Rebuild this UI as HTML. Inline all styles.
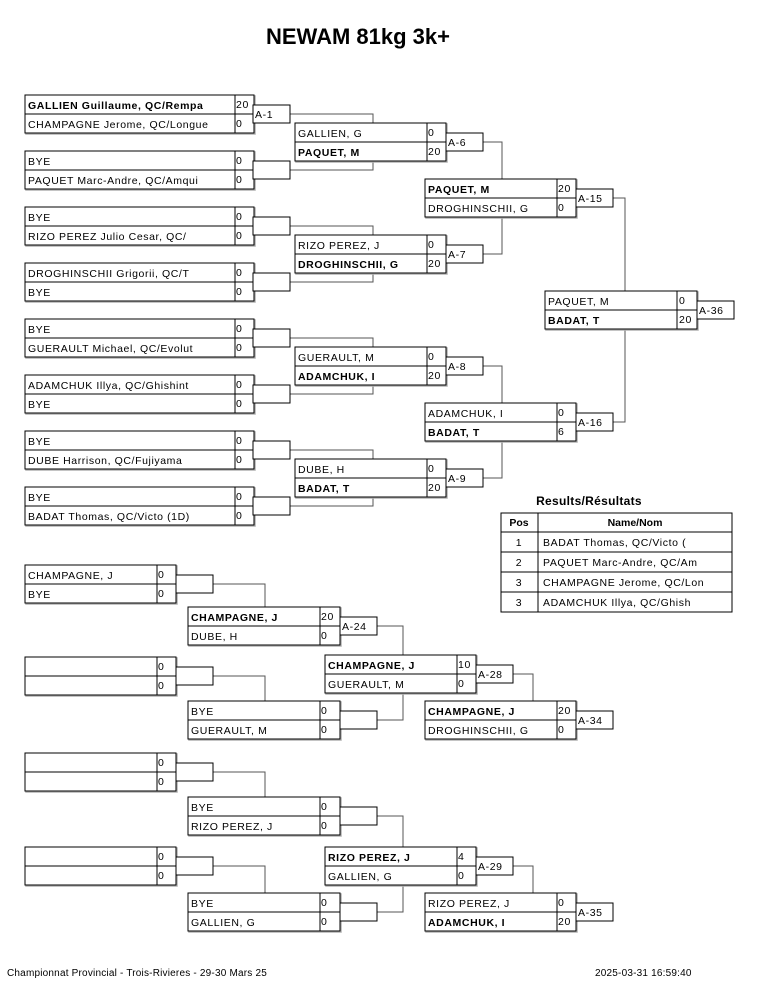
<!DOCTYPE html>
<html><head><meta charset="utf-8"><style>
html,body{margin:0;padding:0;background:#fff;width:765px;height:990px;overflow:hidden}
svg{display:block}
text{font-family:"Liberation Sans",Arial,sans-serif;font-size:10.5px;fill:#000;letter-spacing:0.6px}
.t{font-size:22px;font-weight:bold;letter-spacing:0}
.b{fill:#fff;stroke:#000;stroke-width:1}
.sh{fill:none;stroke:#b0b0b0;stroke-width:1.5}
.w{font-weight:bold}
line{stroke:#000;stroke-width:1}
.c{stroke:#555;stroke-width:1;fill:none}
.ft{font-size:10px;letter-spacing:0.2px}
</style></head><body>
<svg width="765" height="990" viewBox="0 0 765 990">
<text x="358" y="44" text-anchor="middle" class="t">NEWAM 81kg 3k+</text>

<polyline class="c" points="290,114 373,114 373,123"/>
<polyline class="c" points="290,170 373,170 373,161"/>
<polyline class="c" points="290,226 373,226 373,235"/>
<polyline class="c" points="290,282 373,282 373,273"/>
<polyline class="c" points="290,338 373,338 373,347"/>
<polyline class="c" points="290,394 373,394 373,385"/>
<polyline class="c" points="290,450 373,450 373,459"/>
<polyline class="c" points="290,506 373,506 373,497"/>
<polyline class="c" points="483,142 502,142 502,179"/>
<polyline class="c" points="483,254 502,254 502,217"/>
<polyline class="c" points="483,366 502,366 502,403"/>
<polyline class="c" points="483,478 502,478 502,441"/>
<polyline class="c" points="613,198 625,198 625,291"/>
<polyline class="c" points="613,422 625,422 625,329"/>
<polyline class="c" points="213,584 265,584 265,607"/>
<polyline class="c" points="213,676 265,676 265,701"/>
<polyline class="c" points="377,626 403,626 403,655"/>
<polyline class="c" points="377,720 403,720 403,693"/>
<polyline class="c" points="512,674 533,674 533,701"/>
<polyline class="c" points="213,772 265,772 265,797"/>
<polyline class="c" points="213,866 265,866 265,893"/>
<polyline class="c" points="377,816 403,816 403,847"/>
<polyline class="c" points="377,912 403,912 403,885"/>
<polyline class="c" points="512,866 533,866 533,893"/>

<g transform="translate(25,95)"><rect x="1" y="1" width="229" height="38" class="sh"/><rect width="229" height="38" class="b"/><line x1="0" y1="19" x2="229" y2="19"/><line x1="210" y1="0" x2="210" y2="38"/><text x="3" y="14" class="w">GALLIEN Guillaume, QC/Rempa</text><text x="211" y="13">20</text><text x="3" y="33">CHAMPAGNE Jerome, QC/Longue</text><text x="211" y="32">0</text><rect x="228" y="10" width="37" height="18" class="b"/><text x="230" y="23">A-1</text></g>
<g transform="translate(25,151)"><rect x="1" y="1" width="229" height="38" class="sh"/><rect width="229" height="38" class="b"/><line x1="0" y1="19" x2="229" y2="19"/><line x1="210" y1="0" x2="210" y2="38"/><text x="3" y="14">BYE</text><text x="211" y="13">0</text><text x="3" y="33">PAQUET Marc-Andre, QC/Amqui</text><text x="211" y="32">0</text><rect x="228" y="10" width="37" height="18" class="b"/></g>
<g transform="translate(25,207)"><rect x="1" y="1" width="229" height="38" class="sh"/><rect width="229" height="38" class="b"/><line x1="0" y1="19" x2="229" y2="19"/><line x1="210" y1="0" x2="210" y2="38"/><text x="3" y="14">BYE</text><text x="211" y="13">0</text><text x="3" y="33">RIZO PEREZ Julio Cesar, QC/</text><text x="211" y="32">0</text><rect x="228" y="10" width="37" height="18" class="b"/></g>
<g transform="translate(25,263)"><rect x="1" y="1" width="229" height="38" class="sh"/><rect width="229" height="38" class="b"/><line x1="0" y1="19" x2="229" y2="19"/><line x1="210" y1="0" x2="210" y2="38"/><text x="3" y="14">DROGHINSCHII Grigorii, QC/T</text><text x="211" y="13">0</text><text x="3" y="33">BYE</text><text x="211" y="32">0</text><rect x="228" y="10" width="37" height="18" class="b"/></g>
<g transform="translate(25,319)"><rect x="1" y="1" width="229" height="38" class="sh"/><rect width="229" height="38" class="b"/><line x1="0" y1="19" x2="229" y2="19"/><line x1="210" y1="0" x2="210" y2="38"/><text x="3" y="14">BYE</text><text x="211" y="13">0</text><text x="3" y="33">GUERAULT Michael, QC/Evolut</text><text x="211" y="32">0</text><rect x="228" y="10" width="37" height="18" class="b"/></g>
<g transform="translate(25,375)"><rect x="1" y="1" width="229" height="38" class="sh"/><rect width="229" height="38" class="b"/><line x1="0" y1="19" x2="229" y2="19"/><line x1="210" y1="0" x2="210" y2="38"/><text x="3" y="14">ADAMCHUK Illya, QC/Ghishint</text><text x="211" y="13">0</text><text x="3" y="33">BYE</text><text x="211" y="32">0</text><rect x="228" y="10" width="37" height="18" class="b"/></g>
<g transform="translate(25,431)"><rect x="1" y="1" width="229" height="38" class="sh"/><rect width="229" height="38" class="b"/><line x1="0" y1="19" x2="229" y2="19"/><line x1="210" y1="0" x2="210" y2="38"/><text x="3" y="14">BYE</text><text x="211" y="13">0</text><text x="3" y="33">DUBE Harrison, QC/Fujiyama</text><text x="211" y="32">0</text><rect x="228" y="10" width="37" height="18" class="b"/></g>
<g transform="translate(25,487)"><rect x="1" y="1" width="229" height="38" class="sh"/><rect width="229" height="38" class="b"/><line x1="0" y1="19" x2="229" y2="19"/><line x1="210" y1="0" x2="210" y2="38"/><text x="3" y="14">BYE</text><text x="211" y="13">0</text><text x="3" y="33">BADAT Thomas, QC/Victo (1D)</text><text x="211" y="32">0</text><rect x="228" y="10" width="37" height="18" class="b"/></g>

<g transform="translate(295,123)"><rect x="1" y="1" width="151" height="38" class="sh"/><rect width="151" height="38" class="b"/><line x1="0" y1="19" x2="151" y2="19"/><line x1="132" y1="0" x2="132" y2="38"/><text x="3" y="14">GALLIEN, G</text><text x="133" y="13">0</text><text x="3" y="33" class="w">PAQUET, M</text><text x="133" y="32">20</text><rect x="151" y="10" width="37" height="18" class="b"/><text x="153" y="23">A-6</text></g>
<g transform="translate(295,235)"><rect x="1" y="1" width="151" height="38" class="sh"/><rect width="151" height="38" class="b"/><line x1="0" y1="19" x2="151" y2="19"/><line x1="132" y1="0" x2="132" y2="38"/><text x="3" y="14">RIZO PEREZ, J</text><text x="133" y="13">0</text><text x="3" y="33" class="w">DROGHINSCHII, G</text><text x="133" y="32">20</text><rect x="151" y="10" width="37" height="18" class="b"/><text x="153" y="23">A-7</text></g>
<g transform="translate(295,347)"><rect x="1" y="1" width="151" height="38" class="sh"/><rect width="151" height="38" class="b"/><line x1="0" y1="19" x2="151" y2="19"/><line x1="132" y1="0" x2="132" y2="38"/><text x="3" y="14">GUERAULT, M</text><text x="133" y="13">0</text><text x="3" y="33" class="w">ADAMCHUK, I</text><text x="133" y="32">20</text><rect x="151" y="10" width="37" height="18" class="b"/><text x="153" y="23">A-8</text></g>
<g transform="translate(295,459)"><rect x="1" y="1" width="151" height="38" class="sh"/><rect width="151" height="38" class="b"/><line x1="0" y1="19" x2="151" y2="19"/><line x1="132" y1="0" x2="132" y2="38"/><text x="3" y="14">DUBE, H</text><text x="133" y="13">0</text><text x="3" y="33" class="w">BADAT, T</text><text x="133" y="32">20</text><rect x="151" y="10" width="37" height="18" class="b"/><text x="153" y="23">A-9</text></g>

<g transform="translate(425,179)"><rect x="1" y="1" width="151" height="38" class="sh"/><rect width="151" height="38" class="b"/><line x1="0" y1="19" x2="151" y2="19"/><line x1="132" y1="0" x2="132" y2="38"/><text x="3" y="14" class="w">PAQUET, M</text><text x="133" y="13">20</text><text x="3" y="33">DROGHINSCHII, G</text><text x="133" y="32">0</text><rect x="151" y="10" width="37" height="18" class="b"/><text x="153" y="23">A-15</text></g>
<g transform="translate(425,403)"><rect x="1" y="1" width="151" height="38" class="sh"/><rect width="151" height="38" class="b"/><line x1="0" y1="19" x2="151" y2="19"/><line x1="132" y1="0" x2="132" y2="38"/><text x="3" y="14">ADAMCHUK, I</text><text x="133" y="13">0</text><text x="3" y="33" class="w">BADAT, T</text><text x="133" y="32">6</text><rect x="151" y="10" width="37" height="18" class="b"/><text x="153" y="23">A-16</text></g>

<g transform="translate(545,291)"><rect x="1" y="1" width="152" height="38" class="sh"/><rect width="152" height="38" class="b"/><line x1="0" y1="19" x2="152" y2="19"/><line x1="132" y1="0" x2="132" y2="38"/><text x="3" y="14">PAQUET, M</text><text x="134" y="13">0</text><text x="3" y="33" class="w">BADAT, T</text><text x="134" y="32">20</text><rect x="152" y="10" width="37" height="18" class="b"/><text x="154" y="23">A-36</text></g>

<text x="589" y="505" text-anchor="middle" style="font-weight:bold;font-size:12px;letter-spacing:0.3px">Results/Résultats</text>
<rect x="501" y="513" width="231" height="99" class="b"/>
<line x1="538" y1="513" x2="538" y2="612"/>
<line x1="501" y1="532" x2="732" y2="532"/>
<line x1="501" y1="552" x2="732" y2="552"/>
<line x1="501" y1="572" x2="732" y2="572"/>
<line x1="501" y1="592" x2="732" y2="592"/>
<text x="519" y="526" text-anchor="middle" class="w" style="letter-spacing:0">Pos</text>
<text x="635" y="526" text-anchor="middle" class="w" style="letter-spacing:0">Name/Nom</text>
<text x="519" y="546" text-anchor="middle">1</text><text x="543" y="546">BADAT Thomas, QC/Victo (</text>
<text x="519" y="566" text-anchor="middle">2</text><text x="543" y="566">PAQUET Marc-Andre, QC/Am</text>
<text x="519" y="586" text-anchor="middle">3</text><text x="543" y="586">CHAMPAGNE Jerome, QC/Lon</text>
<text x="519" y="606" text-anchor="middle">3</text><text x="543" y="606">ADAMCHUK Illya, QC/Ghish</text>

<g transform="translate(25,565)"><rect x="1" y="1" width="151" height="38" class="sh"/><rect width="151" height="38" class="b"/><line x1="0" y1="19" x2="151" y2="19"/><line x1="132" y1="0" x2="132" y2="38"/><text x="3" y="14">CHAMPAGNE, J</text><text x="133" y="13">0</text><text x="3" y="33">BYE</text><text x="133" y="32">0</text><rect x="151" y="10" width="37" height="18" class="b"/></g>
<g transform="translate(25,657)"><rect x="1" y="1" width="151" height="38" class="sh"/><rect width="151" height="38" class="b"/><line x1="0" y1="19" x2="151" y2="19"/><line x1="132" y1="0" x2="132" y2="38"/><text x="133" y="13">0</text><text x="133" y="32">0</text><rect x="151" y="10" width="37" height="18" class="b"/></g>
<g transform="translate(25,753)"><rect x="1" y="1" width="151" height="38" class="sh"/><rect width="151" height="38" class="b"/><line x1="0" y1="19" x2="151" y2="19"/><line x1="132" y1="0" x2="132" y2="38"/><text x="133" y="13">0</text><text x="133" y="32">0</text><rect x="151" y="10" width="37" height="18" class="b"/></g>
<g transform="translate(25,847)"><rect x="1" y="1" width="151" height="38" class="sh"/><rect width="151" height="38" class="b"/><line x1="0" y1="19" x2="151" y2="19"/><line x1="132" y1="0" x2="132" y2="38"/><text x="133" y="13">0</text><text x="133" y="32">0</text><rect x="151" y="10" width="37" height="18" class="b"/></g>

<g transform="translate(188,607)"><rect x="1" y="1" width="152" height="38" class="sh"/><rect width="152" height="38" class="b"/><line x1="0" y1="19" x2="152" y2="19"/><line x1="132" y1="0" x2="132" y2="38"/><text x="3" y="14" class="w">CHAMPAGNE, J</text><text x="133" y="13">20</text><text x="3" y="33">DUBE, H</text><text x="133" y="32">0</text><rect x="152" y="10" width="37" height="18" class="b"/><text x="154" y="23">A-24</text></g>
<g transform="translate(188,701)"><rect x="1" y="1" width="152" height="38" class="sh"/><rect width="152" height="38" class="b"/><line x1="0" y1="19" x2="152" y2="19"/><line x1="132" y1="0" x2="132" y2="38"/><text x="3" y="14">BYE</text><text x="133" y="13">0</text><text x="3" y="33">GUERAULT, M</text><text x="133" y="32">0</text><rect x="152" y="10" width="37" height="18" class="b"/></g>
<g transform="translate(188,797)"><rect x="1" y="1" width="152" height="38" class="sh"/><rect width="152" height="38" class="b"/><line x1="0" y1="19" x2="152" y2="19"/><line x1="132" y1="0" x2="132" y2="38"/><text x="3" y="14">BYE</text><text x="133" y="13">0</text><text x="3" y="33">RIZO PEREZ, J</text><text x="133" y="32">0</text><rect x="152" y="10" width="37" height="18" class="b"/></g>
<g transform="translate(188,893)"><rect x="1" y="1" width="152" height="38" class="sh"/><rect width="152" height="38" class="b"/><line x1="0" y1="19" x2="152" y2="19"/><line x1="132" y1="0" x2="132" y2="38"/><text x="3" y="14">BYE</text><text x="133" y="13">0</text><text x="3" y="33">GALLIEN, G</text><text x="133" y="32">0</text><rect x="152" y="10" width="37" height="18" class="b"/></g>

<g transform="translate(325,655)"><rect x="1" y="1" width="151" height="38" class="sh"/><rect width="151" height="38" class="b"/><line x1="0" y1="19" x2="151" y2="19"/><line x1="132" y1="0" x2="132" y2="38"/><text x="3" y="14" class="w">CHAMPAGNE, J</text><text x="133" y="13">10</text><text x="3" y="33">GUERAULT, M</text><text x="133" y="32">0</text><rect x="151" y="10" width="37" height="18" class="b"/><text x="153" y="23">A-28</text></g>
<g transform="translate(325,847)"><rect x="1" y="1" width="151" height="38" class="sh"/><rect width="151" height="38" class="b"/><line x1="0" y1="19" x2="151" y2="19"/><line x1="132" y1="0" x2="132" y2="38"/><text x="3" y="14" class="w">RIZO PEREZ, J</text><text x="133" y="13">4</text><text x="3" y="33">GALLIEN, G</text><text x="133" y="32">0</text><rect x="151" y="10" width="37" height="18" class="b"/><text x="153" y="23">A-29</text></g>

<g transform="translate(425,701)"><rect x="1" y="1" width="151" height="38" class="sh"/><rect width="151" height="38" class="b"/><line x1="0" y1="19" x2="151" y2="19"/><line x1="132" y1="0" x2="132" y2="38"/><text x="3" y="14" class="w">CHAMPAGNE, J</text><text x="133" y="13">20</text><text x="3" y="33">DROGHINSCHII, G</text><text x="133" y="32">0</text><rect x="151" y="10" width="37" height="18" class="b"/><text x="153" y="23">A-34</text></g>
<g transform="translate(425,893)"><rect x="1" y="1" width="151" height="38" class="sh"/><rect width="151" height="38" class="b"/><line x1="0" y1="19" x2="151" y2="19"/><line x1="132" y1="0" x2="132" y2="38"/><text x="3" y="14">RIZO PEREZ, J</text><text x="133" y="13">0</text><text x="3" y="33" class="w">ADAMCHUK, I</text><text x="133" y="32">20</text><rect x="151" y="10" width="37" height="18" class="b"/><text x="153" y="23">A-35</text></g>

<text x="7" y="976" class="ft">Championnat Provincial - Trois-Rivieres - 29-30 Mars 25</text>
<text x="595" y="976" class="ft">2025-03-31 16:59:40</text>
</svg>
</body></html>
